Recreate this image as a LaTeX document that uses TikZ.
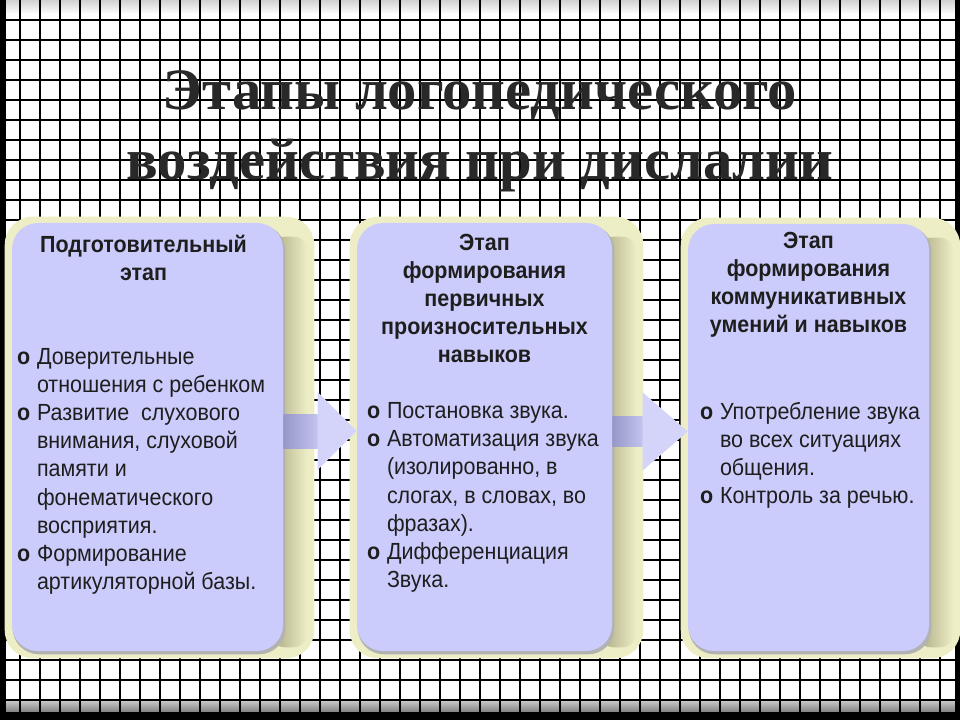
\documentclass[tikz,border=0pt]{standalone}
\usepackage{fontspec}
\setmainfont{Liberation Sans}[FakeStretch=0.92]
\newfontfamily\titlefont{Liberation Serif}
\usetikzlibrary{calc,fit}

\pgfdeclarelayer{paper}
\pgfdeclarelayer{behind}
\pgfsetlayers{paper,behind,main}

\definecolor{boxfill}{RGB}{204,204,252}
\definecolor{glowpale}{RGB}{238,238,198}
\definecolor{glowdark}{RGB}{170,168,128}
\definecolor{shaftdark}{RGB}{150,150,200}
\definecolor{shaftlight}{RGB}{196,196,240}
\definecolor{headfill}{RGB}{212,212,250}
\definecolor{inktext}{RGB}{30,30,30}
\definecolor{titleink}{RGB}{40,40,40}

\tikzset{
  stagebox/.style={fill=boxfill, rounded corners=19.5pt, inner sep=0pt},
  glow/.style={fill=glowpale, rounded corners=21pt},
  gridline/.style={line width=1.5pt, black},
  titletext/.style={font=\titlefont\bfseries\fontsize{44}{52.5}\selectfont, text=titleink, align=center, inner sep=0pt, anchor=base},
  headtext/.style={font=\fontsize{17.5}{21}\selectfont\bfseries, text=inktext, align=center, inner sep=0pt, anchor=base},
  bodytext/.style={font=\fontsize{17.5}{21.15}\selectfont, text=inktext, align=left, inner sep=0pt, anchor=base west},
  arrowhead/.style={fill=headfill},
  arrowshaft/.style={left color=shaftdark, right color=shaftlight},
}
\newcommand{\itemmark}{\makebox[15pt][l]{\bfseries o}}
\newcommand{\itemgap}{\hspace*{15pt}}

\begin{document}
\begin{tikzpicture}[x=0.75pt,y=-0.75pt]
\useasboundingbox (0,0) rectangle (960,720);

% Paper, frame and grid
\begin{pgfonlayer}{paper}
\fill[white] (0,0) rectangle (960,720);
\shade[top color=black!18, bottom color=white] (0,0) rectangle (960,14);
\shade[top color=black!20, bottom color=black!50] (6,700) rectangle (955,712);
\foreach \gx in {20,40,...,940} \draw[gridline] (\gx,0) -- (\gx,712);
\foreach \gy in {20,40,...,700} \draw[gridline] (6,\gy) -- (955,\gy);
\fill[black] (0,0) rectangle (6,720);       %left band
\fill[black] (955,0) rectangle (960,720);   %right band
\fill[black] (0,712) rectangle (960,720);   %bottom band
\end{pgfonlayer}

% Title (base = last line)
\node[titletext] (title) at (480,180) {Этапы логопедического\\воздействия при дислалии};

% Stage boxes
\node[stagebox, fit={(12,223) (283,651)}] (prep) {};
\node[stagebox, fit={(357,223) (612,651)}] (form) {};
\node[stagebox, fit={(688,224) (929,651)}] (comm) {};

% Box shadows and arrows
\begin{pgfonlayer}{behind}
\foreach \b in {prep,form,comm} {
  \fill[glow] ($(\b.north west)+(-7,-6)$) rectangle ($(\b.south east)+(31,7)$);
  \shade[left color=glowdark, right color=glowpale, rounded corners=10pt] ($(\b.north east)+(-12,14)$) rectangle ($(\b.south east)+(24,-4)$);
  \fill[black!30, rounded corners=19.5pt] ($(\b.north west)+(1,2)$) rectangle ($(\b.south east)+(2,3)$);
}
\coordinate (a1s) at ($(prep.east)+(0,-6)$);
\coordinate (a1t) at ($(form.west)+(0,-6)$);
\shade[arrowshaft] ($(a1s)+(0,-17)$) rectangle ($(a1t)+(-39,17)$);
\fill[arrowhead] ($(a1t)+(-39,-39)$) -- (a1t) -- ($(a1t)+(-39,39)$) -- cycle;
\coordinate (a2s) at ($(form.east)+(0,-6)$);
\coordinate (a2t) at ($(comm.west)+(0,-6)$);
\shade[arrowshaft] ($(a2s)+(0,-15)$) rectangle ($(a2t)+(-45,15)$);
\fill[arrowhead] ($(a2t)+(-45,-39)$) -- (a2t) -- ($(a2t)+(-45,39)$) -- cycle;
\end{pgfonlayer}

% Headings (base = last line)
\node[headtext] (prephead) at ($(prep.north)+(-4,58)$) {Подготовительный\\этап};
\node[headtext] (formhead) at ($(form.north)+(0,140)$) {Этап\\формирования\\первичных\\произносительных\\навыков};
\node[headtext] (commhead) at ($(comm.north)+(0,109)$) {Этап\\формирования\\коммуникативных\\умений и навыков};

% Lists (base = last line)
\node[bodytext] (prepbody) at ($(prep.north west)+(5,367)$) {\itemmark Доверительные\\
\itemgap отношения с ребенком\\
\itemmark Развитие\ \ слухового\\
\itemgap внимания, слуховой\\
\itemgap памяти и\\
\itemgap фонематического\\
\itemgap восприятия.\\
\itemmark Формирование\\
\itemgap артикуляторной базы.};
\node[bodytext] (formbody) at ($(form.north west)+(10,365)$) {\itemmark Постановка звука.\\
\itemmark Автоматизация звука\\
\itemgap (изолированно, в\\
\itemgap слогах, в словах, во\\
\itemgap фразах).\\
\itemmark Дифференциация\\
\itemgap Звука.};
\node[bodytext] (commbody) at ($(comm.north west)+(12,280)$) {\itemmark Употребление звука\\
\itemgap во всех ситуациях\\
\itemgap общения.\\
\itemmark Контроль за речью.};
\end{tikzpicture}
\end{document}
